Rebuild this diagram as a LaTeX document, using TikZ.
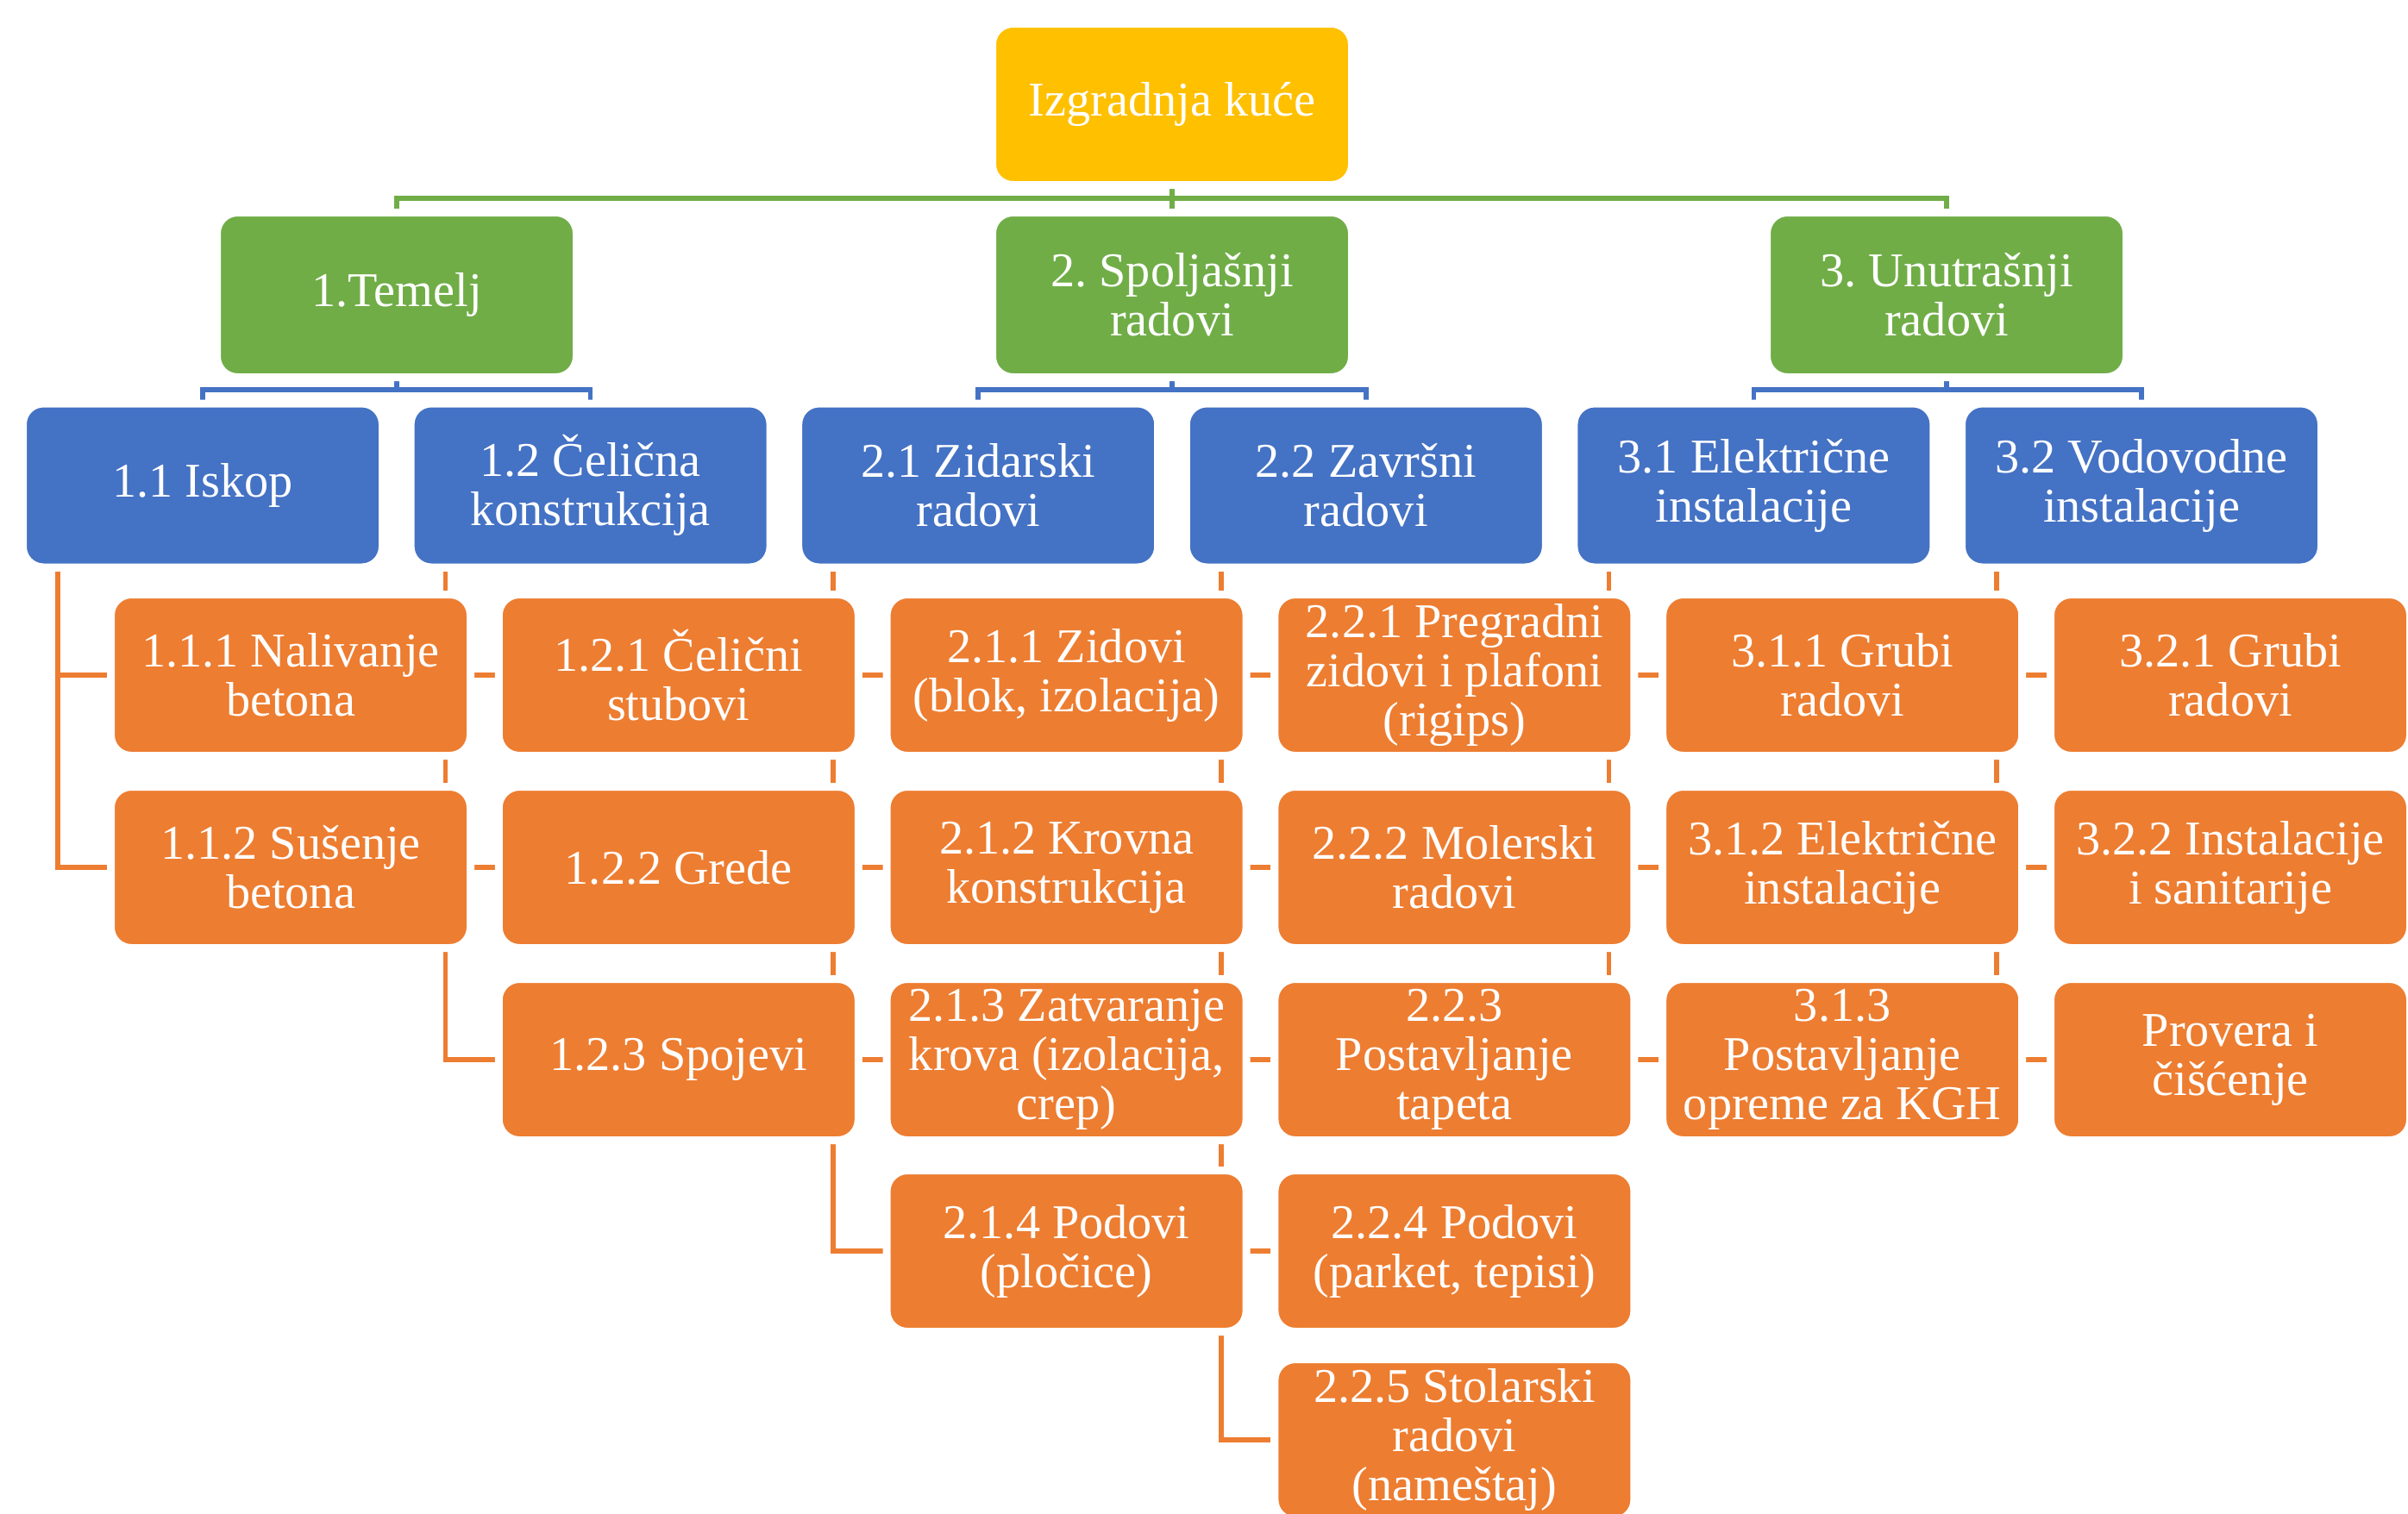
\documentclass[tikz,border=0pt]{standalone}
\usepackage{fontspec}
\setmainfont{Liberation Serif}
\frenchspacing
\usetikzlibrary{calc,backgrounds}
\definecolor{topyellow}{HTML}{FFC000}
\definecolor{phasegreen}{HTML}{70AD47}
\definecolor{groupblue}{HTML}{4472C4}
\definecolor{taskorange}{HTML}{ED7D31}
\begin{document}
\begin{tikzpicture}[
  box/.style={rectangle, rounded corners=0.24cm, draw=white, line width=0.09cm,
    minimum width=4.17cm, minimum height=1.87cm, inner sep=0pt, text=white,
    align=center, font=\fontsize{16}{16.2}\selectfont},
  rootbox/.style={box, fill=topyellow},
  phasebox/.style={box, fill=phasegreen, minimum height=1.91cm},
  groupbox/.style={box, fill=groupblue, minimum height=1.9cm},
  taskbox/.style={box, fill=taskorange},
  link/.style={line width=0.055cm},
  glink/.style={link, draw=phasegreen},
  blink/.style={link, draw=groupblue},
  olink/.style={link, draw=taskorange},
]
\useasboundingbox (0,0) rectangle (27.92,-17.55);
\clip (0,0) rectangle (27.92,-17.55);

% top
\node[rootbox] (root) at (13.59,-1.21) {Izgradnja kuće};

% phases
\node[phasebox] (g1) at (4.60,-3.42) {1.Temelj};
\node[phasebox] (g2) at (13.59,-3.42) {2. Spoljašnji\\radovi};
\node[phasebox] (g3) at (22.57,-3.42) {3. Unutrašnji\\radovi};

% groups
\node[groupbox] (b11) at (2.35,-5.63) {1.1 Iskop};
\node[groupbox] (b12) at (6.846,-5.63) {1.2 Čelična\\konstrukcija};
\node[groupbox] (b21) at (11.342,-5.63) {2.1 Zidarski\\radovi};
\node[groupbox] (b22) at (15.838,-5.63) {2.2 Završni\\radovi};
\node[groupbox] (b31) at (20.334,-5.63) {3.1 Električne\\instalacije};
\node[groupbox] (b32) at (24.83,-5.63) {3.2 Vodovodne\\instalacije};

% tasks, column 1
\node[taskbox] (o111) at (3.37,-7.83) {1.1.1 Nalivanje\\betona};
\node[taskbox] (o112) at (3.37,-10.06) {1.1.2 Sušenje\\betona};
% column 2
\node[taskbox] (o121) at (7.868,-7.83) {1.2.1 Čelični\\stubovi};
\node[taskbox] (o122) at (7.868,-10.06) {1.2.2 Grede};
\node[taskbox] (o123) at (7.868,-12.29) {1.2.3 Spojevi};
% column 3
\node[taskbox] (o211) at (12.366,-7.83) {2.1.1 Zidovi\\(blok, izolacija)};
\node[taskbox] (o212) at (12.366,-10.06) {2.1.2 Krovna\\konstrukcija};
\node[taskbox] (o213) at (12.366,-12.29) {2.1.3 Zatvaranje\\krova (izolacija,\\crep)};
\node[taskbox] (o214) at (12.366,-14.51) {2.1.4 Podovi\\(pločice)};
% column 4
\node[taskbox] (o221) at (16.864,-7.83) {2.2.1 Pregradni\\zidovi i plafoni\\(rigips)};
\node[taskbox] (o222) at (16.864,-10.06) {2.2.2 Molerski\\radovi};
\node[taskbox] (o223) at (16.864,-12.29) {2.2.3\\Postavljanje\\tapeta};
\node[taskbox] (o224) at (16.864,-14.51) {2.2.4 Podovi\\(parket, tepisi)};
\node[taskbox] (o225) at (16.864,-16.70) {2.2.5 Stolarski\\radovi\\(nameštaj)};
% column 5
\node[taskbox] (o311) at (21.362,-7.83) {3.1.1 Grubi\\radovi};
\node[taskbox] (o312) at (21.362,-10.06) {3.1.2 Električne\\instalacije};
\node[taskbox] (o313) at (21.362,-12.29) {3.1.3\\Postavljanje\\opreme za KGH};
% column 6
\node[taskbox] (o321) at (25.86,-7.83) {3.2.1 Grubi\\radovi};
\node[taskbox] (o322) at (25.86,-10.06) {3.2.2 Instalacije\\i sanitarije};
\node[taskbox] (o323) at (25.86,-12.29) {Provera i\\čišćenje};

\begin{pgfonlayer}{background}
  % bus levels
  \coordinate (gbus) at (0,-2.30);
  \coordinate (bbus) at (0,-4.52);

  % root to phases
  \draw[glink] (root.south) -- (root.south |- gbus);
  \draw[glink] (g1.north) -- (g1.north |- gbus) -- (g3.north |- gbus) -- (g3.north);
  \draw[glink] (g2.north) -- (g2.north |- gbus);

  % phases to groups
  \draw[blink] (g1.south) -- (g1.south |- bbus);
  \draw[blink] (b11.north) -- (b11.north |- bbus) -- (b12.north |- bbus) -- (b12.north);
  \draw[blink] (g2.south) -- (g2.south |- bbus);
  \draw[blink] (b21.north) -- (b21.north |- bbus) -- (b22.north |- bbus) -- (b22.north);
  \draw[blink] (g3.south) -- (g3.south |- bbus);
  \draw[blink] (b31.north) -- (b31.north |- bbus) -- (b32.north |- bbus) -- (b32.north);

  % groups to tasks
  \coordinate (t11) at ($(b11.south)+(-1.68,0)$);
  \draw[olink] (t11) -- (t11 |- o112.west) -- (o112.west);
  \draw[olink] (t11 |- o111.west) -- (o111.west);

  \coordinate (t12) at ($(b12.south)+(-1.68,0)$);
  \draw[olink] (t12) -- (t12 |- o123.west) -- (o123.west);
  \draw[olink] (t12 |- o121.west) -- (o121.west);
  \draw[olink] (t12 |- o122.west) -- (o122.west);

  \coordinate (t21) at ($(b21.south)+(-1.68,0)$);
  \draw[olink] (t21) -- (t21 |- o214.west) -- (o214.west);
  \draw[olink] (t21 |- o211.west) -- (o211.west);
  \draw[olink] (t21 |- o212.west) -- (o212.west);
  \draw[olink] (t21 |- o213.west) -- (o213.west);

  \coordinate (t22) at ($(b22.south)+(-1.68,0)$);
  \draw[olink] (t22) -- (t22 |- o225.west) -- (o225.west);
  \draw[olink] (t22 |- o221.west) -- (o221.west);
  \draw[olink] (t22 |- o222.west) -- (o222.west);
  \draw[olink] (t22 |- o223.west) -- (o223.west);
  \draw[olink] (t22 |- o224.west) -- (o224.west);

  \coordinate (t31) at ($(b31.south)+(-1.68,0)$);
  \draw[olink] (t31) -- (t31 |- o313.west) -- (o313.west);
  \draw[olink] (t31 |- o311.west) -- (o311.west);
  \draw[olink] (t31 |- o312.west) -- (o312.west);

  \coordinate (t32) at ($(b32.south)+(-1.68,0)$);
  \draw[olink] (t32) -- (t32 |- o323.west) -- (o323.west);
  \draw[olink] (t32 |- o321.west) -- (o321.west);
  \draw[olink] (t32 |- o322.west) -- (o322.west);
\end{pgfonlayer}
\end{tikzpicture}
\end{document}
